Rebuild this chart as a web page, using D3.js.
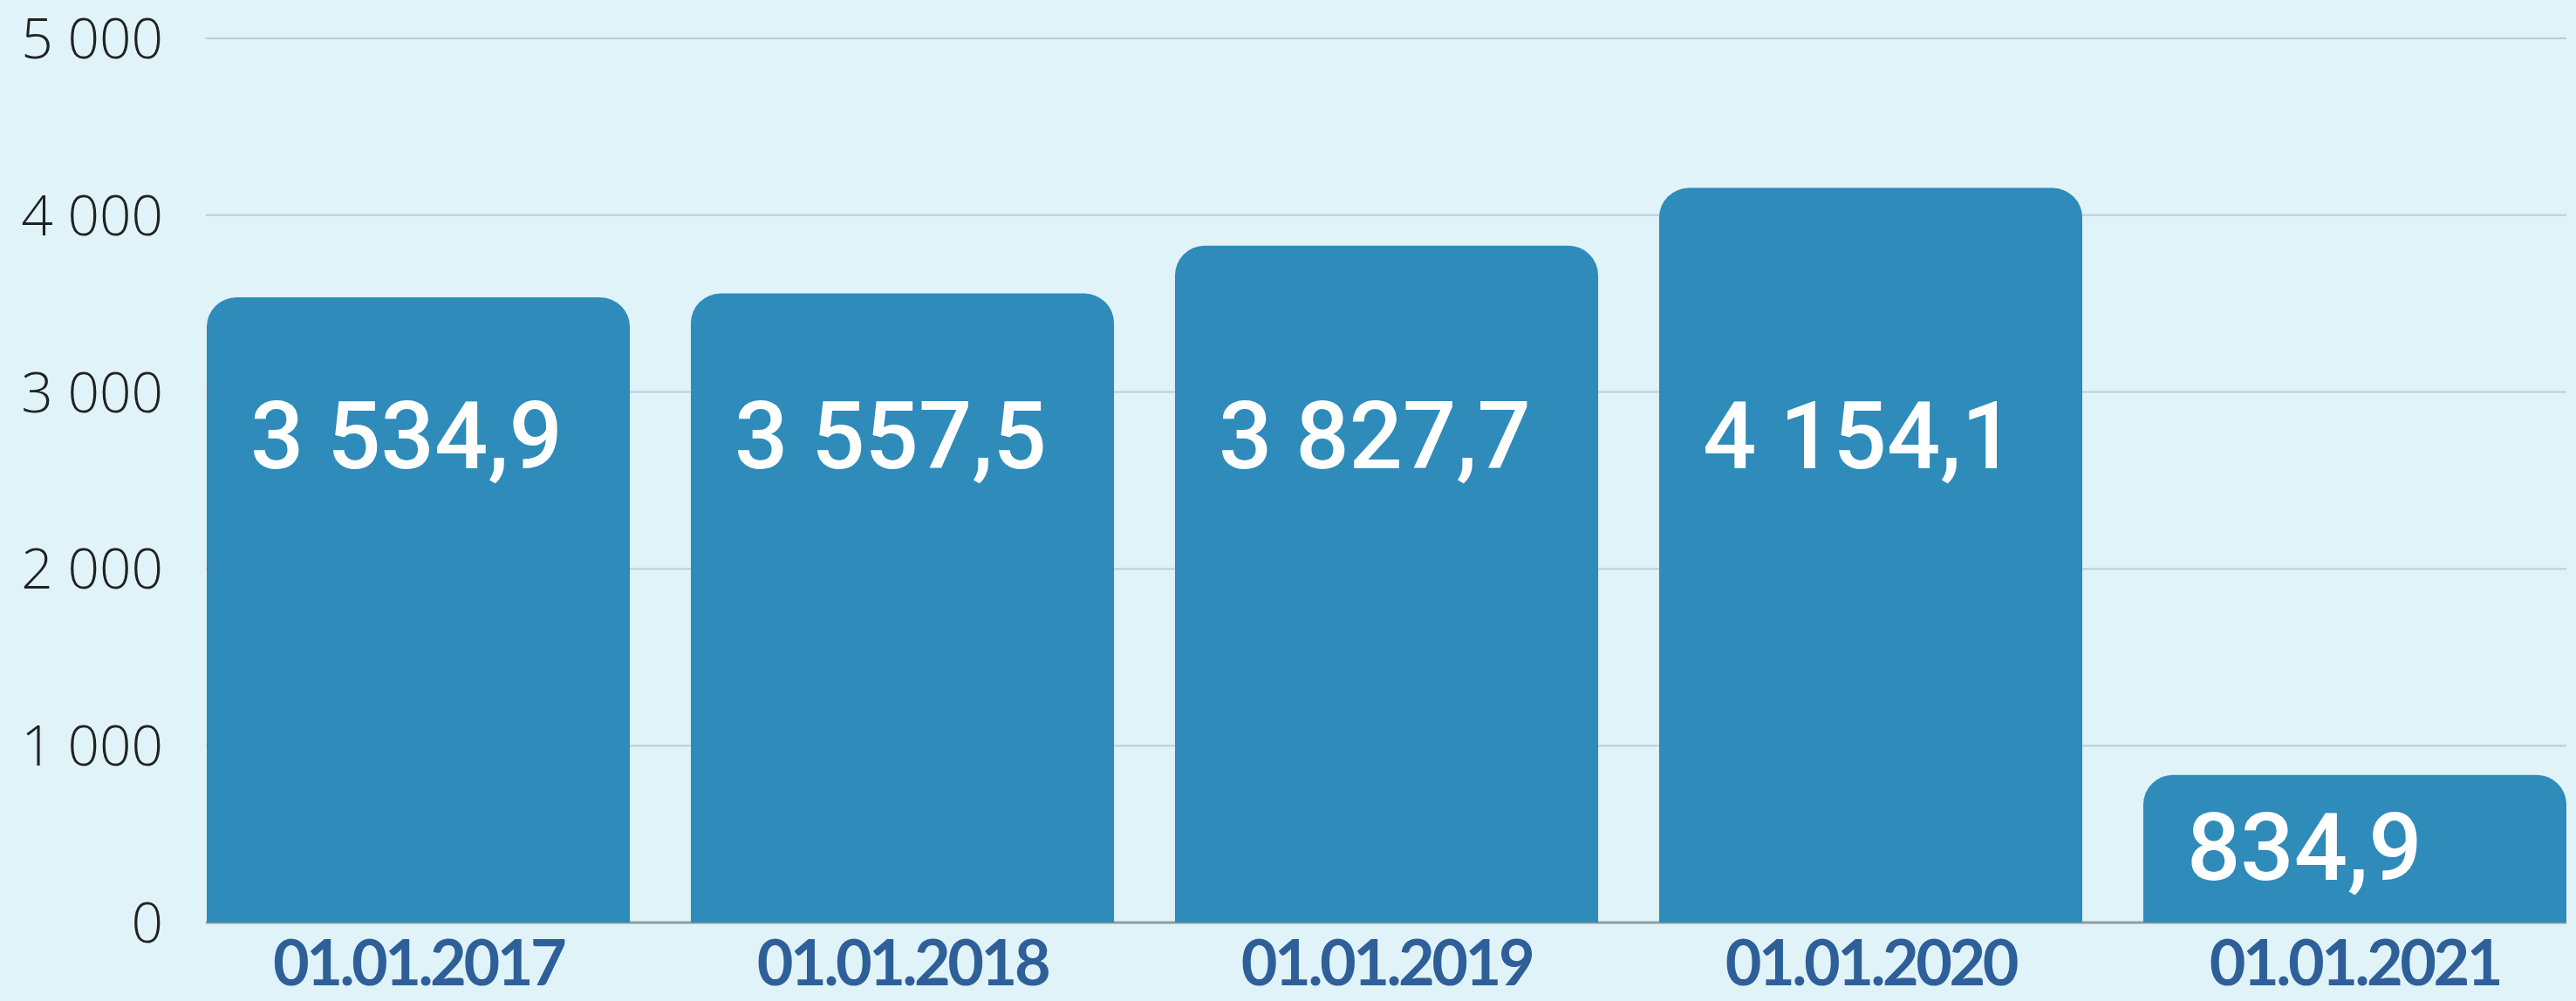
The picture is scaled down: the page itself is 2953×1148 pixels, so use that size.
<html>
<meta charset="utf-8" />
<head>
<style>
body { margin: 0; background: #dff3f9; }
svg { display: block; }
.ytick { font-family: "Open Sans", sans-serif; font-weight: 300; font-size: 64px; fill: #222; }
.xlab { font-family: "Lato", sans-serif; font-weight: 700; font-size: 72px; fill: #2f5f98; letter-spacing: -3.5px; }
.val { font-family: "Roboto", sans-serif; font-weight: 500; font-size: 108px; fill: #fff; }
</style>
<script src="https://d3js.org/d3.v7.min.js"></script>
</head>
<body>
<svg class="chart"></svg>
<script>
var width = 2953, height = 1148;

// data
var dates = ["01.01.2017", "01.01.2018", "01.01.2019", "01.01.2020", "01.01.2021"];
var values = [3534.9, 3557.5, 3827.7, 4154.1, 834.9];
var valueLabels = ["3 534,9", "3 557,5", "3 827,7", "4 154,1", "834,9"];
var yTicks = [0, 1000, 2000, 3000, 4000, 5000];
var yTickLabels = ["0", "1 000", "2 000", "3 000", "4 000", "5 000"];

var svg = d3.select(".chart")
  .attr("width", width)
  .attr("height", height);

svg.append("rect").attr("width", width).attr("height", height).attr("fill", "#dff3f9");

var x = d3.scaleBand()
  .domain(dates)
  .range([237, 2942])
  .paddingInner(0.126)
  .paddingOuter(0);

var y = d3.scaleLinear()
  .domain([0, 5000])
  .range([1058, 44]);

// gridlines
svg.append("g").selectAll("line")
  .data(yTicks)
  .enter().append("line")
  .attr("x1", 236)
  .attr("x2", 2942)
  .attr("y1", function(d) { return y(d); })
  .attr("y2", function(d) { return y(d); })
  .attr("stroke", function(d) { return d === 0 ? "#8f9ea3" : "#b9cfd5"; })
  .attr("stroke-width", function(d) { return d === 0 ? 3 : 2; });

// y tick labels
svg.append("g").selectAll("text")
  .data(yTicks)
  .enter().append("text")
  .attr("class", "ytick")
  .attr("x", 187)
  .attr("y", function(d) { return y(d); })
  .attr("dy", "0.36em")
  .attr("text-anchor", "end")
  .text(function(d, i) { return yTickLabels[i]; });

// bars with rounded top corners
var r = 34;
function barPath(x0, y0, w, y1) {
  return "M" + x0 + "," + y1 +
    "V" + (y0 + r) +
    "A" + r + "," + r + " 0 0 1 " + (x0 + r) + "," + y0 +
    "H" + (x0 + w - r) +
    "A" + r + "," + r + " 0 0 1 " + (x0 + w) + "," + (y0 + r) +
    "V" + y1 + "Z";
}

svg.append("g").selectAll("path")
  .data(values)
  .enter().append("path")
  .attr("fill", "#2e8bba")
  .attr("d", function(d, i) {
    return barPath(x(dates[i]), y(d), x.bandwidth(), y(0));
  });

// value labels
svg.append("g").selectAll("text")
  .data(values)
  .enter().append("text")
  .attr("class", "val")
  .attr("x", function(d, i) { return x(dates[i]) + 50; })
  .attr("y", function(d) { return Math.max(y(2570), y(d) + 120); })
  .text(function(d, i) { return valueLabels[i]; });

// x labels
svg.append("g").selectAll("text")
  .data(dates)
  .enter().append("text")
  .attr("class", "xlab")
  .attr("x", function(d) { return x(d) + x.bandwidth() / 2; })
  .attr("y", 1130)
  .attr("text-anchor", "middle")
  .text(function(d) { return d; });
</script>
</body>
</html>
